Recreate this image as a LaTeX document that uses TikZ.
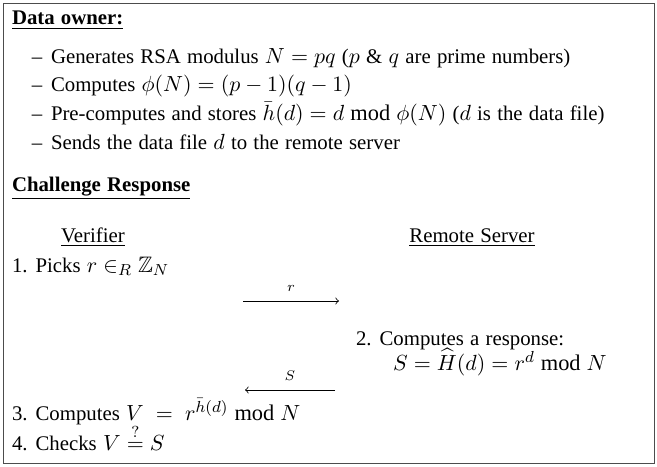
\documentclass[tikz,border=0pt]{standalone}
\usepackage{amsmath,amssymb}
\usepackage{fontspec}
\setmainfont{Liberation Serif}[WordSpace=1.2]
\DeclareMathSizes{10.4}{11.2}{7.9}{5.8}
\usetikzlibrary{positioning,calc}

\begin{document}
\begin{tikzpicture}[x=0.5pt, y=-0.5pt, font=\fontsize{10.4}{12}\selectfont]

% Define styles
\tikzset{txt/.style={anchor=base west, inner sep=0pt, outer sep=0pt}}
\tikzset{head/.style={txt, font=\fontsize{10.4}{12}\selectfont\bfseries}}
\tikzset{msg/.style={thin, ->, >=to}}

% Frame
\useasboundingbox (0,0) rectangle (657,466);
\node (frame) [draw=black!70, line width=0.6pt, minimum width=325.5pt, minimum height=230pt, inner sep=0pt, anchor=north west] at (3,3) {};

% DATA OWNER
\node (owner) [head] at (12,25) {\underline{Data owner:}};
\node (d1) [txt] at (32,63) {--};
\node (l1) [txt] at (51,63) {Generates RSA modulus $N = pq$ ($p$ \& $q$ are prime numbers)};
\node (d2) [txt] at (32,91) {--};
\node (l2) [txt] at (51,91) {Computes $\phi(N) = (p-1)(q-1)$};
\node (d3) [txt] at (32,120) {--};
\node (l3) [txt] at (51,120) {Pre-computes and stores $\bar{h}(d) = d \bmod \phi(N)$ ($d$ is the data file)};
\node (d4) [txt] at (32,149) {--};
\node (l4) [txt] at (51,149) {Sends the data file $d$ to the remote server};

% CHALLENGE RESPONSE
\node (chal) [head] at (12,191) {\underline{Challenge Response}};
\node (verifier) [anchor=base, inner sep=0pt] at (93,242) {\underline{Verifier}};
\node (server) [anchor=base, inner sep=0pt] at (472,242) {\underline{Remote Server}};

% Steps
\node (s1) [txt] at (12,272) {1. Picks $r \in_R \mathbb{Z}_N$};
\coordinate (ra) at (243,301);
\coordinate (rb) at (339,301);
\draw [msg] (ra) -- node[above=1pt, font=\fontsize{7.5}{9}\selectfont] {$r$} (rb);

\node (s2) [txt] at (356,345) {2. Computes a response:};
\node (s2b) [txt] at (393,370) {$S = \widehat{H}(d) = r^d \bmod N$};

\coordinate (sa) at (335,390);
\coordinate (sb) at (245,390);
\draw [msg] (sa) -- node[above=1pt, font=\fontsize{7.5}{9}\selectfont] {$S$} (sb);

\node (s3) [txt] at (12,420) {3. Computes $V \;=\; r^{\bar{h}(d)} \bmod N$};
\node (s4) [txt] at (12,450) {4. Checks $V \stackrel{?}{=} S$};

\end{tikzpicture}
\end{document}
